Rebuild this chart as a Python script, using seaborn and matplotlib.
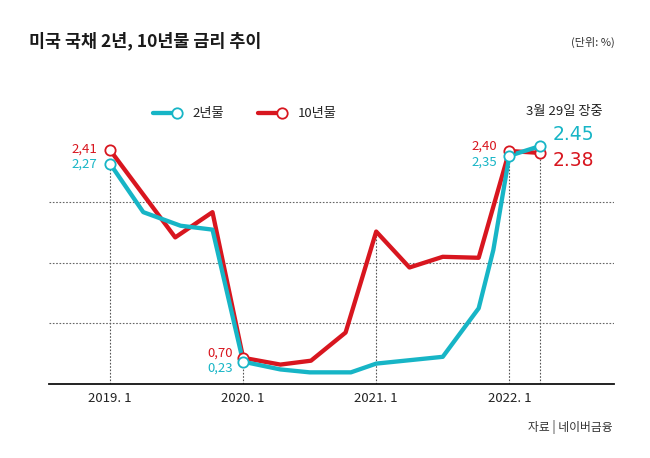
import matplotlib
matplotlib.use('Agg')
import matplotlib.pyplot as plt
from matplotlib.lines import Line2D
import seaborn as sns
import pandas as pd

sns.set_style('white')
plt.rcParams['font.family'] = ['Noto Sans CJK KR', 'DejaVu Sans']
plt.rcParams['axes.unicode_minus'] = False

# 데이터 (그림에서 읽은 값, x = 연도 소수)
x_2y = [2019.00, 2019.25, 2019.53, 2019.77, 2020.00, 2020.28, 2020.50, 2020.81,
        2021.00, 2021.50, 2021.77, 2021.88, 2022.00, 2022.23]
y_2y = [2.27, 1.77, 1.63, 1.59, 0.23, 0.15, 0.12, 0.12,
        0.21, 0.28, 0.78, 1.38, 2.35, 2.45]

x_10y = [2019.00, 2019.49, 2019.77, 2020.00, 2020.28, 2020.51, 2020.77,
         2021.00, 2021.25, 2021.50, 2021.77, 2022.00, 2022.23]
y_10y = [2.41, 1.51, 1.77, 0.27, 0.20, 0.24, 0.53,
         1.57, 1.20, 1.31, 1.30, 2.40, 2.38]

# 마커/라벨 표시 지점
mark_2y = [0, 4, 12, 13]
mark_10y = [0, 3, 11, 12]
label_2y = ['2,27', '0,23', '2,35', '2.45']
label_10y = ['2,41', '0,70', '2,40', '2.38']

tick_x = [2019, 2020, 2021, 2022]
tick_labels = ['2019. 1', '2020. 1', '2021. 1', '2022. 1']

C2 = '#17b5c6'
C10 = '#d8161f'

df2 = pd.DataFrame({'x': x_2y, 'y': y_2y})
df10 = pd.DataFrame({'x': x_10y, 'y': y_10y})

fig = plt.figure(figsize=(6.5, 4.58), dpi=100)
ax = fig.add_axes([49 / 650, 74 / 458, 565 / 650, 284 / 458])

# 가로 점선 그리드
for gy in [0.625, 1.25, 1.875]:
    ax.axhline(gy, color='#666666', lw=0.8, ls=(0, (1.5, 1.5)), zorder=1)

# 세로 점선
vtops = [(x_2y[0], y_2y[0]), (x_2y[4], y_2y[4]), (x_10y[7], y_10y[7]),
         (x_2y[12], y_2y[12]), (x_10y[12], y_10y[12])]
for vx, vt in vtops:
    ax.vlines(vx, 0, vt, color='#555555', lw=0.8, ls=(0, (1.5, 1.5)), zorder=1)

sns.lineplot(data=df10, x='x', y='y', color=C10, linewidth=3.1, sort=False,
             estimator=None, ax=ax, zorder=3)
sns.lineplot(data=df2, x='x', y='y', color=C2, linewidth=3.1, sort=False,
             estimator=None, ax=ax, zorder=4)

sns.scatterplot(data=df10.iloc[mark_10y], x='x', y='y', s=55, facecolor='white',
                edgecolor=C10, linewidth=1.3, ax=ax, zorder=5)
sns.scatterplot(data=df2.iloc[mark_2y], x='x', y='y', s=55, facecolor='white',
                edgecolor=C2, linewidth=1.3, ax=ax, zorder=6)

# 값 라벨
small_off_10 = [(-13, 1), (-10, 5), (-12, 5)]
small_off_2 = [(-13, -1), (-10, -6), (-12, -6)]
for i in range(3):
    ax.annotate(label_10y[i], (x_10y[mark_10y[i]], y_10y[mark_10y[i]]),
                xytext=small_off_10[i], textcoords='offset pixels',
                ha='right', va='center', fontsize=9.5, color=C10)
    ax.annotate(label_2y[i], (x_2y[mark_2y[i]], y_2y[mark_2y[i]]),
                xytext=small_off_2[i], textcoords='offset pixels',
                ha='right', va='center', fontsize=9.5, color=C2)
ax.annotate(label_2y[3], (x_2y[-1], y_2y[-1]), xytext=(13, 12),
            textcoords='offset pixels', ha='left', va='center',
            fontsize=13.5, color=C2, family=['DejaVu Sans'])
ax.annotate(label_10y[3], (x_10y[-1], y_10y[-1]), xytext=(13, -8),
            textcoords='offset pixels', ha='left', va='center',
            fontsize=13.5, color=C10, family=['DejaVu Sans'])

ax.set_xlim(2019 - 61 / 133.1, 2019 + 504 / 133.1)
ax.set_ylim(0, 2.925)
ax.set_xticks(tick_x)
ax.set_xticklabels(tick_labels, fontsize=9.5, color='#222222')
ax.set_yticks([])
ax.tick_params(axis='x', length=0, pad=6)
ax.set_xlabel('')
ax.set_ylabel('')
for s in ['top', 'left', 'right']:
    ax.spines[s].set_visible(False)
ax.spines['bottom'].set_color('#111111')
ax.spines['bottom'].set_linewidth(1.3)

# 범례 (직접 그리기)
ly = (458 - 113) / 458
for (x0, x1, tx, col, name) in [(153, 177, 192, C2, '2년물'), (258, 282, 298, C10, '10년물')]:
    fig.add_artist(Line2D([x0 / 650, x1 / 650], [ly, ly], color=col, lw=3.1,
                          transform=fig.transFigure))
    fig.add_artist(Line2D([x1 / 650], [ly], marker='o', markersize=7.5,
                          markerfacecolor='white', markeredgecolor=col,
                          markeredgewidth=1.3, transform=fig.transFigure))
    fig.text(tx / 650, ly, name, ha='left', va='center', fontsize=9.5,
             color='#222222')

fig.text(564 / 650, (458 - 112) / 458, '3월 29일 장중', ha='center', va='center',
         fontsize=9.5, color='#222222')

fig.text(29 / 650, (458 - 41) / 458, '미국 국채 2년, 10년물 금리 추이', ha='left',
         va='center', fontsize=12.5, fontweight='bold', color='#1a1a1a')
fig.text(615 / 650, (458 - 42) / 458, '(단위: %)', ha='right', va='center',
         fontsize=8, color='#333333')
fig.text(613 / 650, (458 - 427) / 458, '자료 | 네이버금융', ha='right', va='center',
         fontsize=8.5, color='#333333')

fig.savefig('out.png', dpi=100)
